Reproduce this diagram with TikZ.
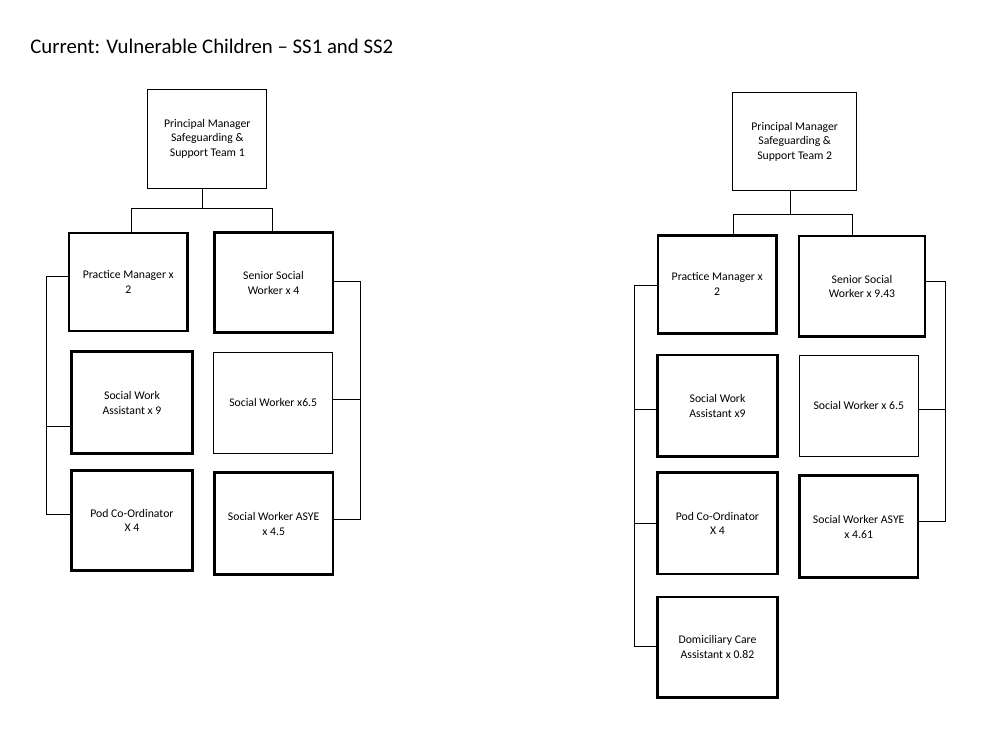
\documentclass[tikz,border=0pt]{standalone}
\usepackage{fontspec}
\setmainfont{Carlito}
\begin{document}
\begin{tikzpicture}[x=0.75pt,y=-0.75pt,
    box/.style={draw, line width=0.75pt, inner sep=0pt, align=center,
      minimum width=89pt, minimum height=75pt,
      font=\fontsize{8.8}{10.9}\selectfont},
    heavy/.style={box, line width=2pt},
    wire/.style={line width=0.75pt}]
    \useasboundingbox (0,0) rectangle (1008,756);
    \node[anchor=base west, inner sep=0pt, font=\fontsize{15.6}{18}\selectfont] (title) at (30,54) {Current: Vulnerable Children -- SS1 and SS2};
    % team 1
    \node[box, minimum height=74pt] (pm1) at (207.3,138.8) {Principal Manager\\Safeguarding \&\\Support Team 1};
    \node[heavy, minimum height=73.5pt] (prac1) at (128.3,282) {Practice Manager x\\2};
    \node[heavy] (ssw1) at (273.5,282.8) {Senior Social\\Worker x 4};
    \node[heavy, minimum width=90.5pt, minimum height=76.5pt] (swa1) at (132,402.8) {Social Work\\Assistant x 9};
    \node[box, minimum height=76pt] (sw1) at (273.2,402.8) {Social Worker x6.5};
    \node[heavy, minimum width=90.5pt] (pod1) at (132,520.3) {Pod Co-Ordinator\\X 4};
    \node[heavy, minimum height=76.5pt] (asye1) at (273.7,523.8) {Social Worker ASYE\\x 4.5};
    \coordinate (t1) at (202.3,208.7);
    \coordinate (t1a) at (131.7,208.7);
    \coordinate (t1b) at (272.7,208.7);
    \draw[wire] (t1 |- pm1.south) -- (t1);
    \draw[wire] (t1a |- prac1.north) -- (t1a) -- (t1b) -- (t1b |- ssw1.north);
    \coordinate (l1a) at (46,276.7);
    \coordinate (l1b) at (46,426.7);
    \coordinate (l1c) at (46,514);
    \draw[wire] (l1a -| prac1.west) -- (l1a) -- (l1c) -- (l1c -| pod1.west);
    \draw[wire] (l1b) -- (l1b -| swa1.west);
    \coordinate (r1a) at (360,281.3);
    \coordinate (r1b) at (360,399.3);
    \coordinate (r1c) at (360,519.3);
    \draw[wire] (r1a -| ssw1.east) -- (r1a) -- (r1c) -- (r1c -| asye1.east);
    \draw[wire] (r1b) -- (r1b -| sw1.east);
    % team 2
    \node[box, minimum width=93pt, minimum height=74pt] (pm2) at (794.7,141.5) {Principal Manager\\Safeguarding \&\\Support Team 2};
    \node[heavy, minimum height=73.5pt] (prac2) at (717.2,284.2) {Practice Manager x\\2};
    \node[heavy, minimum width=94.5pt, minimum height=75.5pt] (ssw2) at (862,286.3) {Senior Social\\Worker x 9.43};
    \node[heavy, minimum width=89.7pt, minimum height=76pt] (swa2) at (717.5,405.8) {Social Work\\Assistant x9};
    \node[box, minimum height=75.5pt] (sw2) at (858.8,405.7) {Social Worker x 6.5};
    \node[heavy, minimum width=89.7pt, minimum height=76pt] (pod2) at (717.5,523.3) {Pod Co-Ordinator\\X 4};
    \node[heavy, minimum height=76.5pt] (asye2) at (858.7,526.8) {Social Worker ASYE\\x 4.61};
    \node[heavy, minimum width=89.7pt, minimum height=75.5pt] (dom2) at (717.5,647.2) {Domiciliary Care\\Assistant x 0.82};
    \coordinate (t2) at (790,214.3);
    \coordinate (t2a) at (733.3,214.3);
    \coordinate (t2b) at (852.3,214.3);
    \draw[wire] (t2 |- pm2.south) -- (t2);
    \draw[wire] (t2a |- prac2.north) -- (t2a) -- (t2b) -- (t2b |- ssw2.north);
    \coordinate (l2a) at (634.3,285.7);
    \coordinate (l2b) at (634.3,409.3);
    \coordinate (l2c) at (634.3,523);
    \coordinate (l2d) at (634.3,646.7);
    \draw[wire] (l2a -| prac2.west) -- (l2a) -- (l2d) -- (l2d -| dom2.west);
    \draw[wire] (l2b) -- (l2b -| swa2.west);
    \draw[wire] (l2c) -- (l2c -| pod2.west);
    \coordinate (r2a) at (945,281.7);
    \coordinate (r2b) at (945,409.3);
    \coordinate (r2c) at (945,521);
    \draw[wire] (r2a -| ssw2.east) -- (r2a) -- (r2c) -- (r2c -| asye2.east);
    \draw[wire] (r2b) -- (r2b -| sw2.east);
\end{tikzpicture}
\end{document}
